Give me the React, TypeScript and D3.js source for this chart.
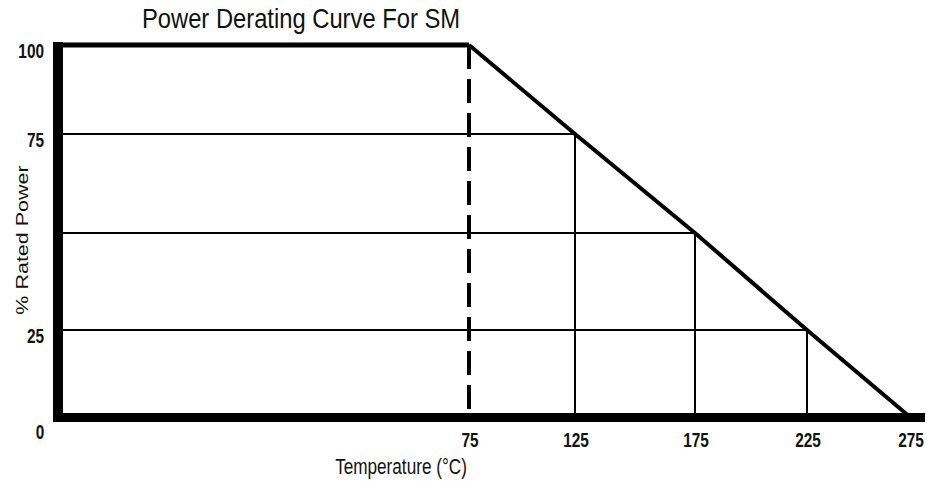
import React from "react";
import * as d3 from "d3";

// Data
const curveTemps = [0, 75, 125, 175, 225, 275];
const curvePower = [100, 100, 75, 50, 25, 0];
const xTickLabels = [75, 125, 175, 225, 275];
const yTickLabels = [100, 75, 25];
const gridTemps = [125, 175, 225];
const gridPower = [75, 50, 25];

const W = 927;
const H = 481;

// Hand-drawn (non-uniform) axis: piecewise linear scales
const x = d3.scaleLinear().domain([0, 75, 125, 175, 225, 275]).range([58, 469, 575, 695, 807, 910]);
const y = d3.scaleLinear().domain([0, 25, 50, 75, 100]).range([417, 330, 233, 134, 45]);

const sans = "'Liberation Sans', Arial, sans-serif";
const SQ = 0.77; // horizontal squeeze of the reference lettering

function SText({ cx, cy, anchor = "middle", size, bold = false, sx = SQ, children }: any) {
  return (
    <g transform={`translate(${cx},${cy}) scale(${sx},1)`}>
      <text x={0} y={0} textAnchor={anchor} dominantBaseline="central" fontFamily={sans}
        fontSize={size} fontWeight={bold ? "bold" : "normal"} fill="#111">
        {children}
      </text>
    </g>
  );
}

export default function App() {
  const pts: [number, number][] = curveTemps.map((t, i) => [x(t), y(curvePower[i])]);
  const slope = d3.line()(pts.slice(1)) as string;
  const flat = d3.line()(pts.slice(0, 2)) as string;
  return (
    <svg width={W} height={H} style={{ position: "absolute", left: 0, top: 0, background: "#fff" }}>
      <rect width={W} height={H} fill="#fff" />
      <g transform="translate(301,28) scale(0.88,1)">
        <text x={0} y={0} fontFamily={sans} fontSize={27} textAnchor="middle" fill="#111">
          Power Derating Curve For SM
        </text>
      </g>

      {/* grid lines */}
      {gridPower.map((p, i) => (
        <line key={"h" + p} x1={x(0)} x2={x(gridTemps[i])} y1={y(p)} y2={y(p)} stroke="#000" strokeWidth={2} />
      ))}
      {gridTemps.map((t, i) => (
        <line key={"v" + t} x1={x(t)} x2={x(t)} y1={y(0)} y2={y(gridPower[i])} stroke="#000" strokeWidth={2} />
      ))}
      {/* dashed line at 75 */}
      <line x1={x(75)} x2={x(75)} y1={y(100)} y2={y(0)} stroke="#000" strokeWidth={4} strokeDasharray="24 10" />

      {/* curve */}
      <path d={flat} fill="none" stroke="#000" strokeWidth={5} />
      <path d={slope} fill="none" stroke="#000" strokeWidth={4} strokeLinejoin="round" />

      {/* axes */}
      <line x1={x(0)} x2={x(0)} y1={y(100) - 3} y2={y(0) + 5} stroke="#000" strokeWidth={10} />
      <line x1={x(0) - 5} x2={925} y1={y(0) + 0.5} y2={y(0) + 0.5} stroke="#000" strokeWidth={9} />

      {/* y tick labels */}
      {yTickLabels.map((v) => (
        <SText key={"yl" + v} cx={44} cy={y(v) + 6} anchor="end" size={20} bold>
          {v}
        </SText>
      ))}
      <SText cx={40} cy={y(0) + 15} size={20} bold>0</SText>

      {/* x tick labels */}
      {xTickLabels.map((t) => (
        <SText key={"xl" + t} cx={x(t) + 1} cy={440} size={20} bold>
          {t}
        </SText>
      ))}

      {/* axis titles */}
      <SText cx={401} cy={466} size={22} sx={0.78}>Temperature (°C)</SText>
      <g transform="translate(22,240) rotate(-90) scale(1,0.8)">
        <text x={0} y={0} textAnchor="middle" dominantBaseline="central" fontFamily={sans} fontSize={21.5} fill="#111">
          % Rated Power
        </text>
      </g>
    </svg>
  );
}
